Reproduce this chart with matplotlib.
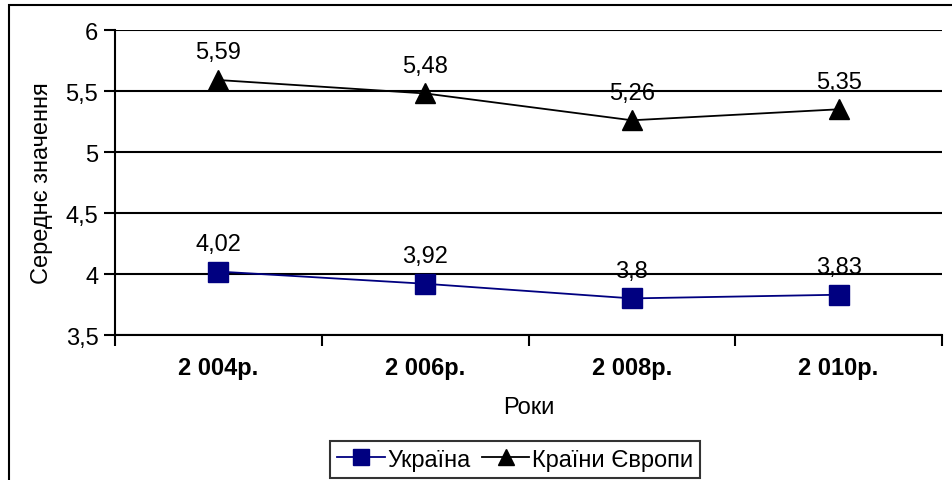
#!/usr/bin/env python3
"""Середнє значення: Україна vs країни Європи, 2004-2010."""
import matplotlib
matplotlib.use("Agg")
import matplotlib.pyplot as plt
from matplotlib.patches import Rectangle

plt.rc("font", family=["Liberation Sans", "DejaVu Sans"])

years = ["2 004р.", "2 006р.", "2 008р.", "2 010р."]
ukraine = [4.02, 3.92, 3.8, 3.83]
europe = [5.59, 5.48, 5.26, 5.35]
yticks = [3.5, 4, 4.5, 5, 5.5, 6]

FS = 17


def fmt(v):
    return f"{v:g}".replace(".", ",")


fig = plt.figure(figsize=(9.52, 4.81), dpi=100)
ax = fig.add_axes([115 / 952, 1 - 336 / 481, 827 / 952, 305 / 481])

x = range(len(years))
ax.plot(x, ukraine, color="#000080", lw=1.3, marker="s", ms=14,
        mfc="#000080", mec="#000080", label="Україна", zorder=3)
ax.plot(x, europe, color="black", lw=1.3, marker="^", ms=14,
        mfc="black", mec="black", label="Країни Європи", zorder=3)

for series in (ukraine, europe):
    for xi, v in zip(x, series):
        ax.annotate(fmt(v), (xi, v), xytext=(0, 20), textcoords="offset points",
                    ha="center", va="center", fontsize=FS)

ax.set_xlim(-0.5, len(years) - 0.5)
ax.set_ylim(3.5, 6)
ax.set_yticks(yticks)
ax.set_yticklabels([fmt(v) for v in yticks], fontsize=FS)
ax.set_xticks(list(x))
ax.set_xticklabels(years, fontsize=FS, fontweight="bold")
ax.tick_params(axis="x", length=0, pad=15)
# category separator ticks
ax.set_xticks([i - 0.5 for i in range(len(years) + 1)], minor=True)
ax.tick_params(axis="x", which="minor", length=8, width=1.5, direction="out")
ax.tick_params(axis="y", length=8, width=1.5, pad=4)

ax.grid(axis="y", color="black", lw=1.5)
ax.set_axisbelow(True)
for s in ["top", "right"]:
    ax.spines[s].set_visible(False)
for s in ["left", "bottom"]:
    ax.spines[s].set_linewidth(1.5)

ax.set_xlabel("Роки", fontsize=FS, labelpad=12)
ax.set_ylabel("Середнє значення", fontsize=FS, labelpad=9)

leg = ax.legend(loc="lower center", bbox_to_anchor=(515 / 952, 0 / 481),
                bbox_transform=fig.transFigure, ncol=2, fontsize=FS,
                frameon=True, fancybox=False, handlelength=2.0,
                handletextpad=0.1, columnspacing=0.5, borderpad=0.3,
                borderaxespad=0.1, markerscale=0.8)
leg.get_frame().set_edgecolor("black")
leg.get_frame().set_linewidth(1.5)

# outer chart border (cut off at right and bottom in the original)
fig.patches.append(Rectangle((9 / 952, -0.1), 1.2, 1 - 6 / 481 + 0.1,
                             transform=fig.transFigure, fill=False,
                             edgecolor="black", lw=1.5))

plt.savefig("out.png", dpi=100)
